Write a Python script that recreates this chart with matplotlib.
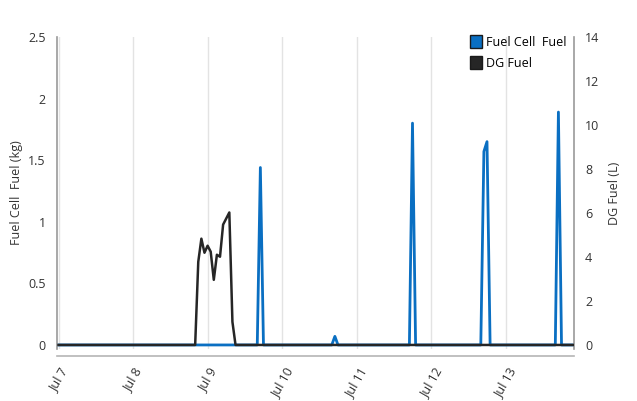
import numpy as np
import pandas as pd
import matplotlib.pyplot as plt
from matplotlib.patches import Patch
from matplotlib.transforms import ScaledTranslation

plt.rcParams["font.family"] = ["Open Sans", "DejaVu Sans"]

# hourly series, Jul 7 00:00 .. Jul 13 22:00
start = pd.Timestamp("2023-07-07 00:00")
n_hours = 167

# fuel cell fuel (kg): hour offset -> value
fc_hours = [64, 65, 66, 88, 89, 90, 112, 114, 115, 136, 137, 138, 139, 159, 161, 163]
fc_vals = [0, 1.44, 0, 0, 0.07, 0, 0, 1.80, 0, 0, 1.57, 1.65, 0, 0, 1.89, 0]

# DG fuel (L)
dg_hours = [44, 45, 46, 47, 48, 49, 50, 51, 52, 53, 54, 55, 56, 57]
dg_vals = [0, 3.78, 4.83, 4.19, 4.51, 4.24, 2.96, 4.10, 4.01, 5.47, 5.75, 6.02, 1.05, 0]

day_labels = ["Jul 7", "Jul 8", "Jul 9", "Jul 10", "Jul 11", "Jul 12", "Jul 13"]

times = pd.date_range(start, periods=n_hours, freq="h")
fc = np.zeros(n_hours)
fc[fc_hours] = fc_vals
dg = np.zeros(n_hours)
dg[dg_hours] = dg_vals

blue = "#0a6fc2"
dark = "#262626"
txt = "#333333"

fig = plt.figure(figsize=(6.37, 4.01), dpi=100)
ax = fig.add_axes([0.0895, 0.129, 0.8115, 0.779])
ax2 = ax.twinx()

ax.plot(times, fc, color=blue, linewidth=2.0, zorder=2)
ax2.plot(times, dg, color=dark, linewidth=1.8, zorder=3)

ax.set_ylim(-0.035, 2.5)
ax2.set_ylim(-0.035 * 14 / 2.5, 14)
ax.set_yticks([0, 0.5, 1, 1.5, 2, 2.5])
ax.set_yticklabels(["0", "0.5", "1", "1.5", "2", "2.5"])
ax2.set_yticks(range(0, 15, 2))

ticks = pd.date_range(start, periods=7, freq="D")
ax.set_xlim(start - pd.Timedelta(minutes=30), start + pd.Timedelta(hours=166))
ax.set_xticks(ticks)
ax.set_xticklabels(day_labels)
ax.grid(axis="x", color="#e3e3e3", linewidth=1)

for a in (ax, ax2):
    a.tick_params(length=0, labelsize=9, colors=txt)
    a.spines["top"].set_visible(False)
    for sp in ("left", "right", "bottom"):
        a.spines[sp].set_color("#9a9a9a")
        a.spines[sp].set_linewidth(1.2)
ax.tick_params(axis="y", pad=8)
ax2.tick_params(axis="y", pad=8)
ax.tick_params(axis="x", pad=7, labelrotation=60)
shift = ScaledTranslation(7 / 72, 0, fig.dpi_scale_trans)
for lbl in ax.get_xticklabels():
    lbl.set_ha("right")
    lbl.set_rotation_mode("anchor")
    lbl.set_transform(lbl.get_transform() + shift)
ax.spines["bottom"].set_position(("outward", 5))
ax.spines["bottom"].set_color("#b5b5b5")
ax2.spines["bottom"].set_visible(False)
ax.spines["right"].set_visible(False)
ax2.spines["left"].set_visible(False)

ax.set_ylabel("Fuel Cell  Fuel (kg)", fontsize=9, color=txt, labelpad=4)
ax2.set_ylabel("DG Fuel (L)", fontsize=9, color=txt, labelpad=6)

handles = [Patch(facecolor=blue, edgecolor="#1a1a1a", label="Fuel Cell  Fuel"),
           Patch(facecolor=dark, edgecolor="#1a1a1a", label="DG Fuel")]
ax2.legend(handles=handles, loc="upper right", bbox_to_anchor=(1.0, 1.03),
           frameon=False, fontsize=9, handlelength=1.0, handleheight=1.2,
           handletextpad=0.3, labelspacing=0.6, borderaxespad=0.2)

fig.savefig("out.png", dpi=100)
